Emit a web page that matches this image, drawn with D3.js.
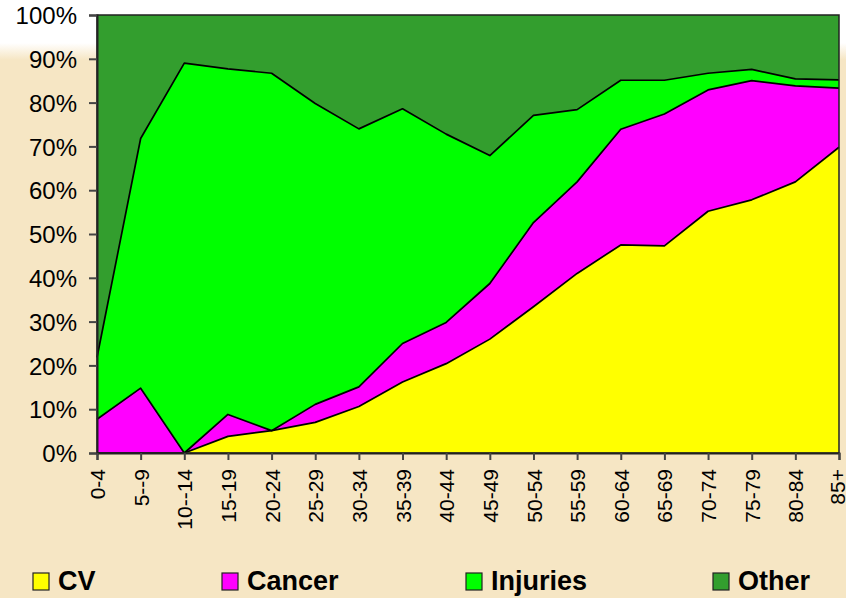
<!DOCTYPE html>
<html>
<head>
<meta charset="utf-8">
<script src="https://cdn.jsdelivr.net/npm/d3@7"></script>
<style>
  html, body { margin: 0; padding: 0; }
  body { width: 846px; height: 598px; overflow: hidden; }
  text { font-family: "Liberation Sans", Arial, sans-serif; }
</style>
</head>
<body>
<svg id="chart" width="846" height="598"></svg>
<script>
const ageGroups = ["0-4", "5--9", "10--14", "15-19", "20-24", "25-29", "30-34", "35-39", "40-44",
  "45-49", "50-54", "55-59", "60-64", "65-69", "70-74", "75-79", "80-84", "85+"];
const seriesNames = ["CV", "Cancer", "Injuries", "Other"];
const seriesColors = ["#ffff00", "#ff00ff", "#00ff00", "#339e2e"];

// share of deaths (%) per age group
const cv       = [0, 0, 0, 3.8, 5.1, 7.0, 10.6, 16.2, 20.4, 26.0, 33.4, 41.0, 47.5, 47.3, 55.2, 57.8, 61.9, 69.8];
const cancer   = [7.7, 14.8, 0, 5.0, 0, 4.1, 4.5, 8.8, 9.4, 12.7, 19.2, 20.9, 26.4, 30.1, 27.7, 27.2, 21.9, 13.5];
const injuries = [14.1, 57.0, 89.0, 78.9, 81.6, 68.7, 58.9, 53.6, 43.0, 29.2, 24.5, 16.5, 11.2, 7.7, 3.8, 2.6, 1.6, 1.9];
const other    = [78.2, 28.2, 11.0, 12.3, 13.3, 20.2, 26.0, 21.4, 27.2, 32.1, 22.9, 21.6, 14.9, 14.9, 13.3, 12.4, 14.6, 14.8];
const yTicks = [0, 0.1, 0.2, 0.3, 0.4, 0.5, 0.6, 0.7, 0.8, 0.9, 1];

const width = 846, height = 598;
const plot = { left: 97, right: 839, top: 15, bottom: 453 };

const svg = d3.select("#chart");

// background: white header band fading into beige
const defs = svg.append("defs");
const grad = defs.append("linearGradient")
  .attr("id", "bg").attr("x1", 0).attr("y1", 0).attr("x2", 0).attr("y2", 1);
grad.append("stop").attr("offset", 0).attr("stop-color", "#ffffff");
grad.append("stop").attr("offset", 0.072).attr("stop-color", "#ffffff");
grad.append("stop").attr("offset", 0.1).attr("stop-color", "#f6e6c4");
grad.append("stop").attr("offset", 1).attr("stop-color", "#f6e6c4");
svg.append("rect").attr("width", width).attr("height", height).attr("fill", "url(#bg)");

const rows = ageGroups.map((g, i) => ({
  age: g, CV: cv[i], Cancer: cancer[i], Injuries: injuries[i], Other: other[i]
}));

const stacked = d3.stack()
  .keys(seriesNames)
  .offset(d3.stackOffsetExpand)(rows);

const x = d3.scalePoint().domain(ageGroups).range([plot.left, plot.right]);
const y = d3.scaleLinear().domain([0, 1]).range([plot.bottom, plot.top]);

const area = d3.area()
  .x(d => x(d.data.age))
  .y0(d => y(d[0]))
  .y1(d => y(d[1]));

const topLine = d3.line()
  .x(d => x(d.data.age))
  .y(d => y(d[1]));

const g = svg.append("g");

g.selectAll(".layer")
  .data(stacked)
  .enter()
  .append("path")
  .attr("class", "layer")
  .attr("d", area)
  .attr("fill", (d, i) => seriesColors[i]);

// black outlines on top of each band (except the 100% edge)
g.selectAll(".edge")
  .data(stacked.slice(0, 3))
  .enter()
  .append("path")
  .attr("class", "edge")
  .attr("d", topLine)
  .attr("fill", "none")
  .attr("stroke", "#000")
  .attr("stroke-width", 1.7)
  .attr("stroke-linejoin", "round");

// plot frame
svg.append("rect")
  .attr("x", plot.left).attr("y", plot.top)
  .attr("width", plot.right - plot.left).attr("height", plot.bottom - plot.top)
  .attr("fill", "none").attr("stroke", "#222").attr("stroke-width", 1.5);

// y axis
const yAxis = svg.append("g")
  .attr("transform", `translate(${plot.left},0)`)
  .call(d3.axisLeft(y).tickValues(yTicks).tickFormat(d3.format(".0%")).tickSize(8).tickPadding(12));
yAxis.select(".domain").attr("stroke", "#222").attr("stroke-width", 2);
yAxis.selectAll(".tick line").attr("stroke", "#444").attr("stroke-width", 2);
yAxis.selectAll("text")
  .attr("font-size", 24)
  .attr("fill", "#000")
  .attr("font-family", "'Liberation Sans', Arial, sans-serif")
  .attr("dy", "0.36em");

// x axis
const xAxis = svg.append("g")
  .attr("transform", `translate(0,${plot.bottom})`)
  .call(d3.axisBottom(x).tickSize(7).tickPadding(0));
xAxis.select(".domain").attr("stroke", "#222").attr("stroke-width", 2);
xAxis.selectAll(".tick line").attr("stroke", "#444").attr("stroke-width", 2);
xAxis.selectAll("text")
  .attr("font-size", 21)
  .attr("fill", "#000")
  .attr("font-family", "'Liberation Sans', Arial, sans-serif")
  .attr("text-anchor", "end")
  .attr("transform", "rotate(-90)")
  .attr("x", -16)
  .attr("y", 0)
  .attr("dy", (d, i) => i === ageGroups.length - 1 ? "0.28em" : "0.36em");

// legend
const legendX = [33, 222, 466, 713];
const legend = svg.append("g").selectAll("g")
  .data(seriesNames)
  .enter()
  .append("g")
  .attr("transform", (d, i) => `translate(${legendX[i]},573)`);

legend.append("rect")
  .attr("width", 16).attr("height", 17)
  .attr("fill", (d, i) => seriesColors[i])
  .attr("stroke", "#222").attr("stroke-width", 1.2);

legend.append("text")
  .attr("x", 25).attr("y", 17)
  .attr("font-size", 27)
  .attr("font-weight", "bold")
  .attr("fill", "#000")
  .text(d => d);
</script>
</body>
</html>
